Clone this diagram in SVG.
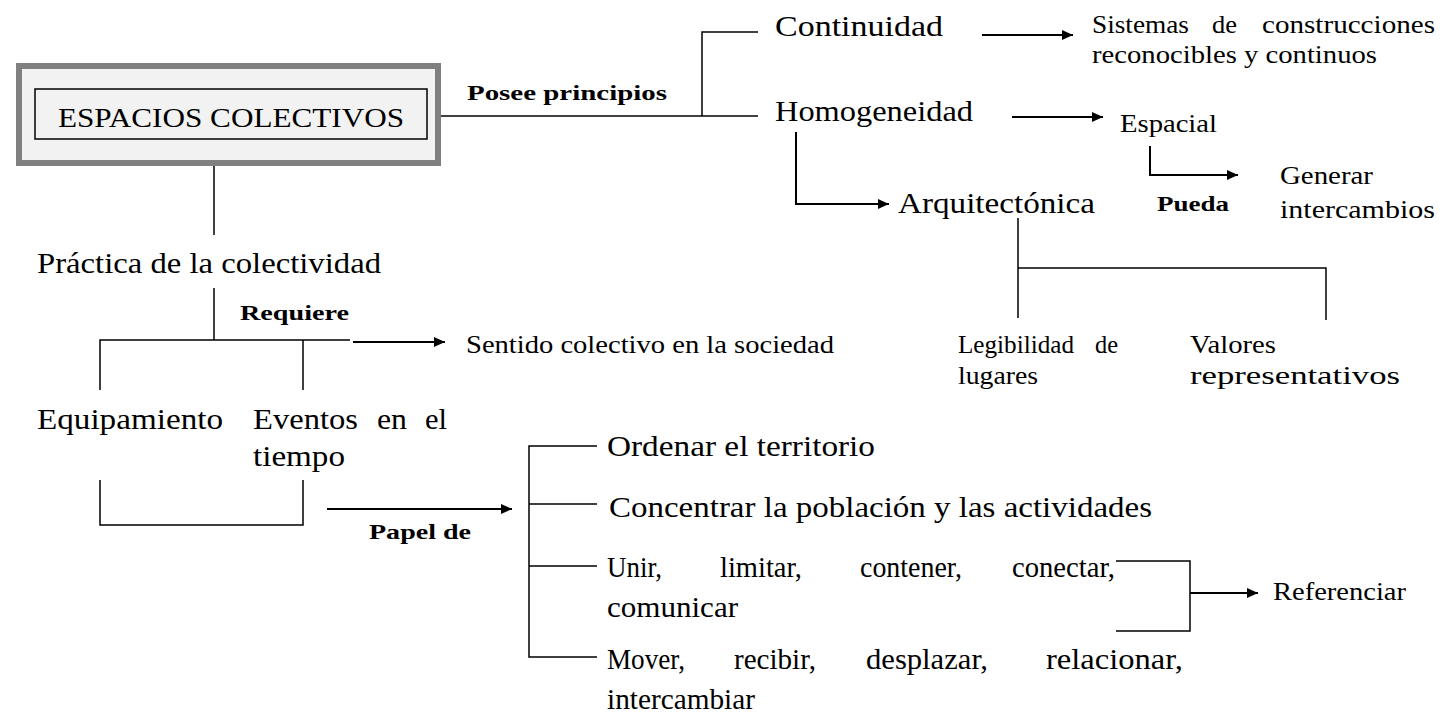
<svg xmlns="http://www.w3.org/2000/svg" width="1449" height="715" viewBox="0 0 1449 715">
<defs>
<marker id="ah" markerUnits="userSpaceOnUse" markerWidth="12" markerHeight="10" refX="11" refY="5" orient="auto"><path d="M0,0 L11,5 L0,10 z" fill="#000"/></marker>
<style>
.t text{font-family:'Liberation Serif','DejaVu Serif',serif;fill:#000}
.l{font-size:30px}
.m{font-size:25px}
.b{font-size:22px;font-weight:bold}
.c line,.c path{stroke:#000;stroke-width:1.5;fill:none}
.c .a{stroke-width:2;marker-end:url(#ah)}
</style>
</defs>
<rect width="1449" height="715" fill="#fff"/>
<g class="t" font-family="'Liberation Serif', 'DejaVu Serif', serif">
<g id="espacios">
<rect x="19" y="66" width="419" height="97" fill="#f2f2f2" stroke="#808080" stroke-width="6"/>
<rect x="35" y="89" width="392" height="50" fill="none" stroke="#000" stroke-width="1.5"/>
<text x="58" y="127" textLength="346" lengthAdjust="spacingAndGlyphs" font-size="28">ESPACIOS COLECTIVOS</text>
</g>
<g id="posee"><text class="b" x="467" y="100" textLength="200" lengthAdjust="spacingAndGlyphs">Posee principios</text></g>
<g id="continuidad"><text class="l" x="775" y="36" textLength="168" lengthAdjust="spacingAndGlyphs">Continuidad</text></g>
<g id="sistemas">
<text class="m" y="33"><tspan x="1092" textLength="97" lengthAdjust="spacingAndGlyphs">Sistemas</tspan><tspan x="1212" textLength="25" lengthAdjust="spacingAndGlyphs">de</tspan><tspan x="1262" textLength="173" lengthAdjust="spacingAndGlyphs">construcciones</tspan></text>
<text class="m" x="1092" y="63" textLength="285" lengthAdjust="spacingAndGlyphs">reconocibles y continuos</text>
</g>
<g id="homogeneidad"><text class="l" x="775" y="121" textLength="198" lengthAdjust="spacingAndGlyphs">Homogeneidad</text></g>
<g id="espacial"><text class="m" x="1120" y="132" textLength="97" lengthAdjust="spacingAndGlyphs">Espacial</text></g>
<g id="pueda"><text class="b" x="1157" y="211" textLength="72" lengthAdjust="spacingAndGlyphs">Pueda</text></g>
<g id="generar">
<text class="m" x="1280" y="184" textLength="93" lengthAdjust="spacingAndGlyphs">Generar</text>
<text class="m" x="1280" y="218" textLength="155" lengthAdjust="spacingAndGlyphs">intercambios</text>
</g>
<g id="arquitectonica"><text class="l" x="898" y="213" textLength="197" lengthAdjust="spacingAndGlyphs">Arquitectónica</text></g>
<g id="legibilidad">
<text class="m" y="353"><tspan x="958" textLength="116" lengthAdjust="spacingAndGlyphs">Legibilidad</tspan><tspan x="1095" textLength="23" lengthAdjust="spacingAndGlyphs">de</tspan></text>
<text class="m" x="958" y="384" textLength="80" lengthAdjust="spacingAndGlyphs">lugares</text>
</g>
<g id="valores">
<text class="m" x="1190" y="353" textLength="86" lengthAdjust="spacingAndGlyphs">Valores</text>
<text class="m" x="1190" y="384" textLength="210" lengthAdjust="spacingAndGlyphs">representativos</text>
</g>
<g id="practica"><text class="l" x="37" y="273" textLength="344" lengthAdjust="spacingAndGlyphs">Práctica de la colectividad</text></g>
<g id="requiere"><text class="b" x="240" y="320" textLength="109" lengthAdjust="spacingAndGlyphs">Requiere</text></g>
<g id="sentido"><text class="m" x="466" y="353" textLength="368" lengthAdjust="spacingAndGlyphs">Sentido colectivo en la sociedad</text></g>
<g id="equipamiento"><text class="l" x="37" y="429" textLength="186" lengthAdjust="spacingAndGlyphs">Equipamiento</text></g>
<g id="eventos">
<text class="l" y="429"><tspan x="253" textLength="105" lengthAdjust="spacingAndGlyphs">Eventos</tspan><tspan x="377" textLength="30" lengthAdjust="spacingAndGlyphs">en</tspan><tspan x="425" textLength="22" lengthAdjust="spacingAndGlyphs">el</tspan></text>
<text class="l" x="253" y="466" textLength="92" lengthAdjust="spacingAndGlyphs">tiempo</text>
</g>
<g id="papel"><text class="b" x="369" y="539" textLength="102" lengthAdjust="spacingAndGlyphs">Papel de</text></g>
<g id="ordenar"><text class="l" x="607" y="456" textLength="268" lengthAdjust="spacingAndGlyphs">Ordenar el territorio</text></g>
<g id="concentrar"><text class="l" x="609" y="517" textLength="543" lengthAdjust="spacingAndGlyphs">Concentrar la población y las actividades</text></g>
<g id="unir">
<text class="l" y="577"><tspan x="607" textLength="55" lengthAdjust="spacingAndGlyphs">Unir,</tspan><tspan x="720" textLength="82" lengthAdjust="spacingAndGlyphs">limitar,</tspan><tspan x="860" textLength="102" lengthAdjust="spacingAndGlyphs">contener,</tspan><tspan x="1012" textLength="103" lengthAdjust="spacingAndGlyphs">conectar,</tspan></text>
<text class="l" x="607" y="617" textLength="131" lengthAdjust="spacingAndGlyphs">comunicar</text>
</g>
<g id="mover">
<text class="l" y="669"><tspan x="607" textLength="78" lengthAdjust="spacingAndGlyphs">Mover,</tspan><tspan x="734" textLength="82" lengthAdjust="spacingAndGlyphs">recibir,</tspan><tspan x="866" textLength="122" lengthAdjust="spacingAndGlyphs">desplazar,</tspan><tspan x="1046" textLength="137" lengthAdjust="spacingAndGlyphs">relacionar,</tspan></text>
<text class="l" x="607" y="709" textLength="148" lengthAdjust="spacingAndGlyphs">intercambiar</text>
</g>
<g id="referenciar"><text class="m" x="1273" y="600" textLength="133" lengthAdjust="spacingAndGlyphs">Referenciar</text></g>
</g>
<g class="c" id="connectors">
<line x1="441" y1="116" x2="758" y2="116"/>
<path d="M758,32 H702 V116"/>
<line class="a" x1="982" y1="35" x2="1073" y2="35"/>
<line class="a" x1="1012" y1="117" x2="1103" y2="117"/>
<path class="a" d="M796,132 V204 H889"/>
<path class="a" d="M1150,146 V175 H1238"/>
<path d="M1018,218 V318 M1018,268 H1326 V320"/>
<line x1="214" y1="166" x2="214" y2="235"/>
<line x1="214" y1="288" x2="214" y2="340"/>
<path d="M100,390 V340 H350 M303,340 V390"/>
<line class="a" x1="353" y1="342" x2="445" y2="342"/>
<path d="M100,480 V525 H303 V480"/>
<line class="a" x1="327" y1="509" x2="512" y2="509"/>
<path d="M597,446 H529 V657 H597 M529,504 H597 M529,566 H597"/>
<path d="M1116,561 H1190 V631 H1116"/>
<line class="a" x1="1190" y1="593" x2="1258" y2="593"/>
</g>
</svg>
